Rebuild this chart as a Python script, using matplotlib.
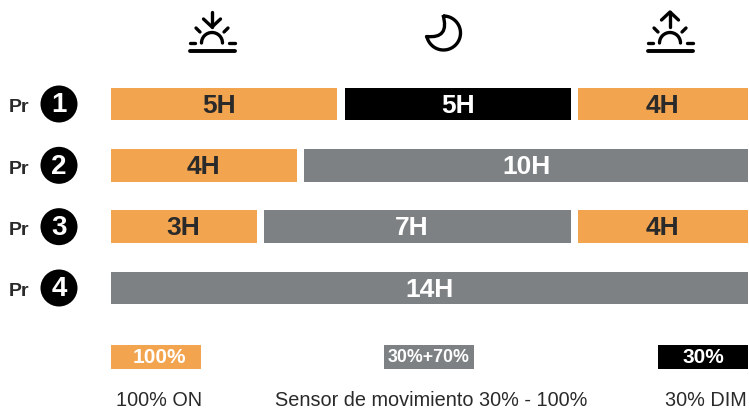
#!/usr/bin/env python3
"""Dimming profiles: hours per lighting mode for four programs."""

import matplotlib.pyplot as plt
import numpy as np
from matplotlib.patches import Arc, Circle, PathPatch
from matplotlib.path import Path

plt.rcParams["font.family"] = ["Liberation Sans", "DejaVu Sans"]

ORANGE = "#F2A44E"
GRAY = "#7E8183"
BLACK = "#000000"
DARK = "#2A2A2A"

programs = ["1", "2", "3", "4"]

# segments per program, in hours along the night axis
starts = [[0.0, 5.14, 10.26], [0.0, 4.24], [0.0, 3.36, 10.26], [0.0]]
widths = [[4.97, 4.97, 3.74], [4.09, 9.76], [3.21, 6.75, 3.74], [14.0]]
labels = [["5H", "5H", "4H"], ["4H", "10H"], ["3H", "7H", "4H"], ["14H"]]
modes = [["on", "dim", "on"], ["on", "sensor"], ["on", "sensor", "on"], ["sensor"]]
# label centres do not always sit mid-bar in the original
label_x = [[2.37, 7.62, 12.13], [2.04, 9.14], [1.58, 6.6, 12.13], [7.01]]

colors = {"on": ORANGE, "sensor": GRAY, "dim": BLACK}
text_colors = {"on": DARK, "sensor": "white", "dim": "white"}

legend_modes = ["on", "sensor", "dim"]
legend_starts = [0.0, 6.0, 12.02]
legend_widths = [1.98, 1.98, 1.98]
legend_values = ["100%", "30%+70%", "30%"]
legend_names = ["100% ON", "Sensor de movimiento 30% - 100%", "30% DIM"]
legend_name_x = [1.05, 7.04, 13.08]

W, H = 749, 409
PX_PER_HOUR = 45.5
PX_PER_ROW = 61.33
X0, Y0 = 111, 104


def sun_icon(ov, cx, down):
    lw = 2.4
    kw = dict(color="black", lw=lw, solid_capstyle="round")
    ov.plot([cx - 22.5, cx + 22.5], [51, 51], lw=2.8, color="black", solid_capstyle="round")
    for sx in (-1, 1):
        ov.plot([cx + sx * 17, cx + sx * 22.5], [43, 43], **kw)
        ov.plot([cx + sx * 12, cx + sx * 16], [32, 28], **kw)
    ov.add_patch(Arc((cx, 43), 21, 21, theta1=180, theta2=360, color="black", lw=lw, capstyle="round"))
    ov.plot([cx, cx], [12, 27], **kw)
    tip, back = (27, 19) if down else (12, 20)
    ov.plot([cx - 8.5, cx, cx + 8.5], [back, tip, back], solid_joinstyle="round", **kw)


def moon_icon(ov):
    ang = np.radians(np.linspace(-92, 160, 60))
    outer = np.c_[443.5 + 17 * np.cos(ang), 33 + 17 * np.sin(ang)]
    verts = [tuple(p) for p in outer] + [(426.5, 36.5), (450, 39), (443, 15), (443, 15)]
    codes = [Path.MOVETO] + [Path.LINETO] * (len(outer) - 1) + [Path.LINETO, Path.CURVE3, Path.CURVE3, Path.LINETO]
    ov.add_patch(PathPatch(Path(verts, codes), fc="none", ec="black", lw=2.4, joinstyle="round"))


def main() -> None:
    fig = plt.figure(figsize=(W / 100, H / 100), dpi=100)

    # bars live on an hours/row axis mapped onto the whole canvas
    ax = fig.add_axes([0, 0, 1, 1])
    ax.set_xlim(-X0 / PX_PER_HOUR, (W - X0) / PX_PER_HOUR)
    ax.set_ylim((H - Y0) / PX_PER_ROW, -Y0 / PX_PER_ROW)
    ax.axis("off")

    for row, prog in enumerate(programs):
        for s, w, lab, m, lx in zip(starts[row], widths[row], labels[row], modes[row], label_x[row]):
            ax.barh(row, w, left=s, height=0.53, color=colors[m], lw=0)
            ax.text(lx, row + 0.025, lab, ha="center", va="center", fontsize=19,
                    fontweight="bold", color=text_colors[m])

    legend_y = 4.12
    for s, w, m, val, name, nx in zip(legend_starts, legend_widths, legend_modes, legend_values,
                                      legend_names, legend_name_x):
        ax.barh(legend_y, w, left=s, height=0.39, color=colors[m], lw=0)
        vx = s + w / 2 + (0.07 if m == "on" else 0)
        ax.text(vx, legend_y + 0.01, val, ha="center", va="center", fontweight="bold",
                fontsize=12.8 if m == "sensor" else 15, color="white")
        ax.text(nx, 4.83, name, ha="center", va="center", fontsize=14.3, color=DARK)

    # overlay in pixel coordinates for the icons and program badges
    ov = fig.add_axes([0, 0, 1, 1])
    ov.set_xlim(0, W)
    ov.set_ylim(H, 0)
    ov.axis("off")
    ov.patch.set_alpha(0)

    sun_icon(ov, 212, True)
    moon_icon(ov)
    sun_icon(ov, 670, False)

    for row, prog in enumerate(programs):
        yc = Y0 + row * PX_PER_ROW
        ov.text(19.5, yc + 4, "Pr", ha="center", va="center", fontsize=14, fontweight="bold", color=DARK)
        ov.add_patch(Circle((59, yc), 18.5, color="black", lw=0))
        ov.text(59, yc + 1.5, prog, ha="center", va="center", fontsize=20, fontweight="bold", color="white")

    fig.savefig("out.png", dpi=100)


if __name__ == "__main__":
    main()
